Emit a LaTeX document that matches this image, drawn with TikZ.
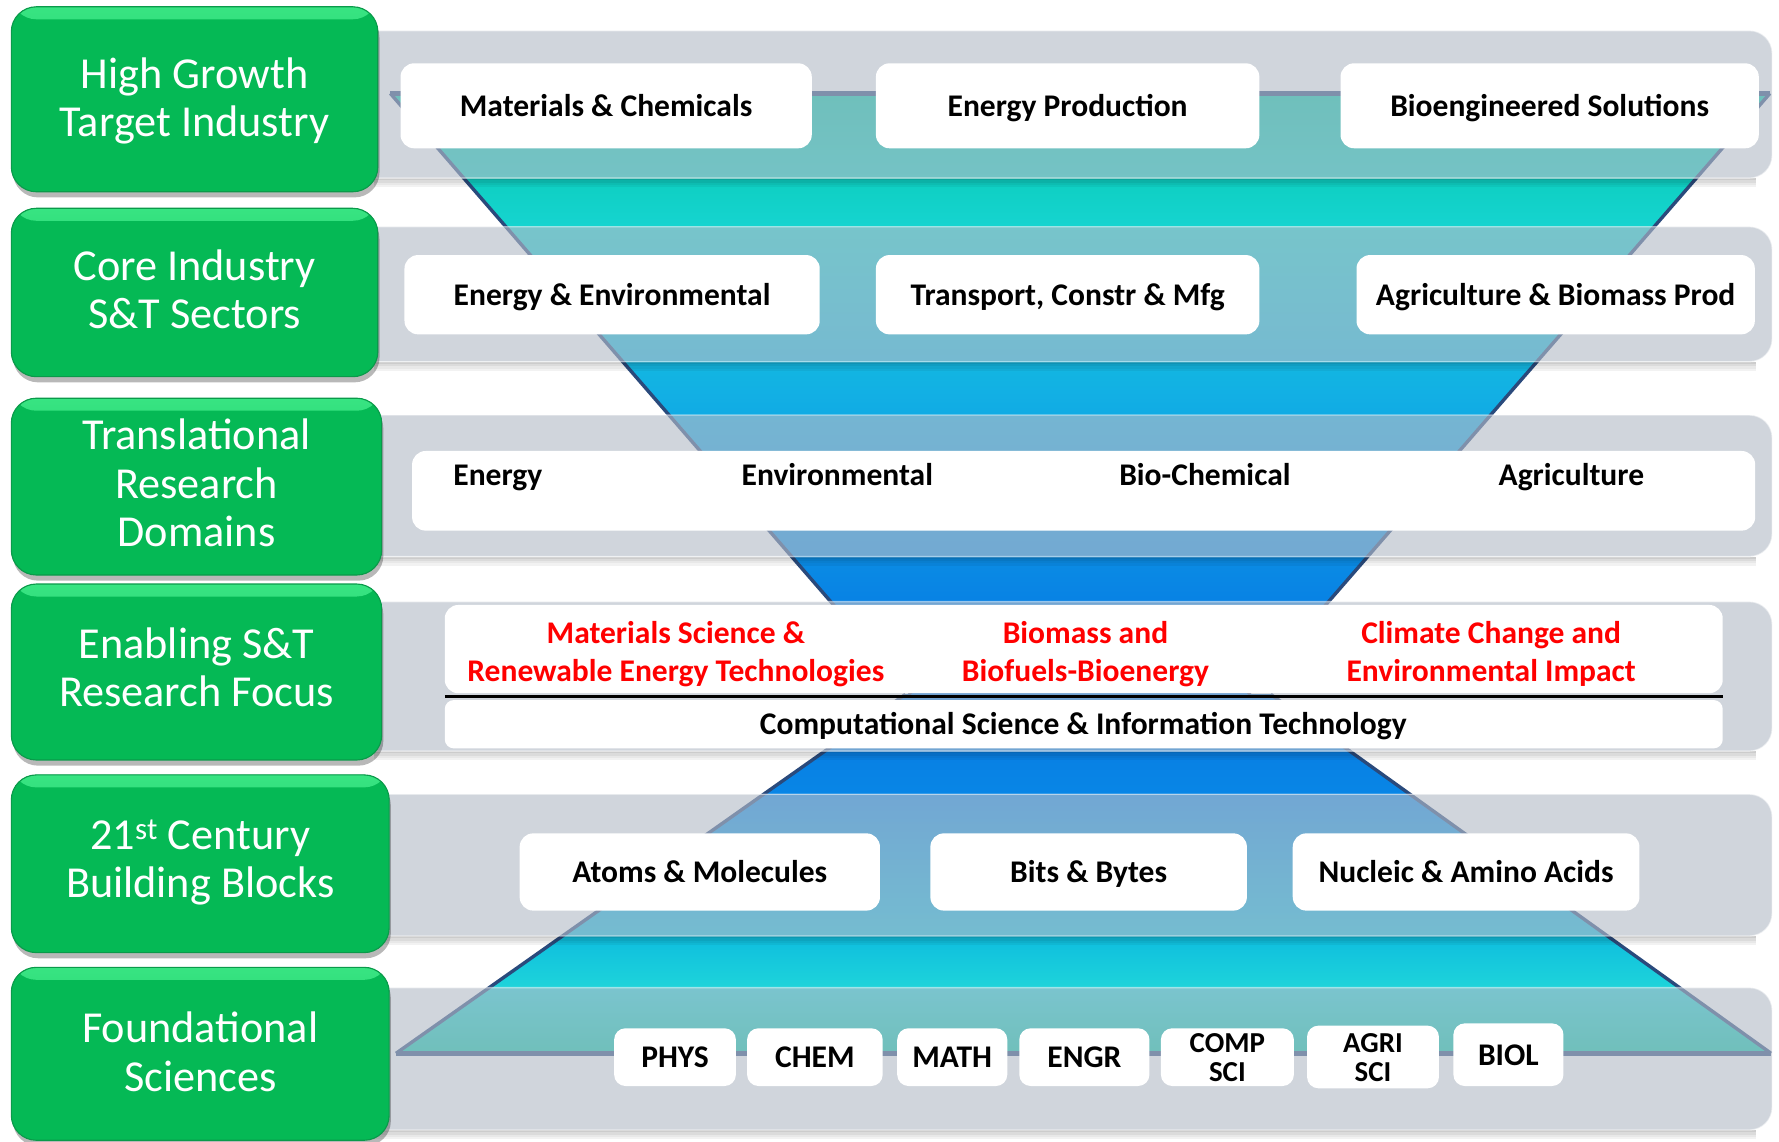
\documentclass[tikz,border=0pt]{standalone}
\usepackage{fontspec}
\setmainfont{Carlito}
\definecolor{fA}{HTML}{00C6A8}
\definecolor{fB}{HTML}{16D4D0}
\definecolor{fC}{HTML}{12B0E4}
\definecolor{fD}{HTML}{0882E4}
\definecolor{fE}{HTML}{0878E0}
\definecolor{fF}{HTML}{0886E6}
\definecolor{fG}{HTML}{10C0DE}
\definecolor{fH}{HTML}{1ED4DA}
\definecolor{fI}{HTML}{00C4A0}
\definecolor{edgeC}{HTML}{2A4A7C}
\definecolor{bandC}{HTML}{B4BCC8}
\definecolor{gMain}{HTML}{05B955}
\definecolor{gTop}{HTML}{38E482}
\definecolor{gEdge}{HTML}{0A9A4A}
\newcommand{\bxfont}{\bfseries\fontsize{27.8}{33}\selectfont}
\newcommand{\smfont}{\bfseries\fontsize{25.5}{25.5}\selectfont}
\newcommand{\glfont}{\fontsize{39}{42.5}\selectfont}
\begin{document}
\begin{tikzpicture}[x=1pt,y=-1pt,
  band/.style={fill=bandC, fill opacity=0.62, draw=white, draw opacity=0.5, line width=1.2pt, rounded corners=20pt},
  gbox/.style={rounded corners=22pt, fill=gMain, draw=gEdge, line width=1pt, inner sep=0pt,
    preaction={draw=none, fill=black, fill opacity=0.28, transform canvas={xshift=1.5pt,yshift=-5pt}},
    path picture={\fill[top color=gTop, bottom color=gMain] (path picture bounding box.north west) rectangle ([yshift=-11pt]path picture bounding box.north east);}},
  wbox/.style={fill=white, rounded corners=12pt, inner sep=0pt, font=\bxfont, text height=23pt, text depth=4pt},
  sbox/.style={wbox, rounded corners=10pt},
  btxt/.style={anchor=base, inner sep=0pt, font=\bxfont},
  stxt/.style={anchor=center, inner sep=0pt, align=center, font=\smfont},
  rtxt/.style={btxt, text=red},
  gtxt/.style={anchor=base, inner sep=0pt, font=\glfont, text=white},
  fedge/.style={draw=edgeC, line width=3pt}]
\useasboundingbox (0,0) rectangle (1568,1006);
\fill[white] (0,0) rectangle (1568,1006);

% ---------- funnel (hourglass) ----------
\begin{scope}
\clip (344,82.3) -- (1560,82.3) -- (1100,612) -- (1120,612) -- (1561,928.4) -- (349,928.4) -- (798,612) -- (803,612) -- cycle;
\fill[top color=fA, bottom color=fB] (300,80) rectangle (1600,200.5);
\fill[top color=fB, bottom color=fC] (300,200) rectangle (1600,345.5);
\fill[top color=fC, bottom color=fD] (300,345) rectangle (1600,530.5);
\fill[top color=fD, bottom color=fE] (300,530) rectangle (1600,612.5);
\fill[top color=fE, bottom color=fF] (300,612) rectangle (1600,700.5);
\fill[top color=fF, bottom color=fG] (300,700) rectangle (1600,830.5);
\fill[top color=fG, bottom color=fH] (300,830) rectangle (1600,870.5);
\fill[top color=fH, bottom color=fI] (300,870) rectangle (1600,935);
\end{scope}
\draw[fedge] (344,82.3) -- (803,612);
\draw[fedge] (1560,82.3) -- (1100,612);
\draw[fedge] (798,612) -- (349,928.4);
\draw[fedge] (1120,612) -- (1561,928.4);
\draw[fedge, line width=5pt] (344,82.3) -- (1560,82.3);
\draw[fedge, line width=5pt] (349,928.4) -- (1561,928.4);

% ---------- bands ----------
\foreach \ya/\yb in {27/157, 199.8/318.8, 365.8/490.6, 530.3/662, 700/825, 870.5/996}{
  \foreach \k/\o in {0/0.2,1/0.14,2/0.09,3/0.05}{
    \fill[black, fill opacity=\o] (330,{\yb+2*\k}) rectangle (1548,{\yb+2*\k+2});
  }
  \path[band] (300,\ya) rectangle (1562,\yb);
}

% ---------- row 1 ----------
\node[wbox, minimum width=362.5pt, minimum height=74.9pt] (b11) at (534.25,93.25) {Materials \& Chemicals};
\node[wbox, minimum width=338pt, minimum height=74.9pt] (b12) at (941,93.25) {Energy Production};
\node[wbox, minimum width=368.7pt, minimum height=74.9pt] (b13) at (1365.85,93.25) {Bioengineered Solutions};

% ---------- row 2 ----------
\node[wbox, minimum width=366pt, minimum height=69.9pt] (b21) at (539.5,259.75) {Energy \& Environmental};
\node[wbox, minimum width=338pt, minimum height=69.9pt] (b22) at (941,259.75) {Transport, Constr \& Mfg};
\node[wbox, minimum width=351.1pt, minimum height=69.9pt] (b23) at (1371.15,259.75) {Agriculture \& Biomass Prod};

% ---------- row 3 ----------
\node[wbox, minimum width=1183.8pt, minimum height=70.2pt] (r3) at (955.1,432.6) {};
\node[btxt] (t31) at (438.8,427.5) {Energy};
\node[btxt] (t32) at (738,427.5) {Environmental};
\node[btxt] (t33) at (1062,427.5) {Bio-Chemical};
\node[btxt] (t34) at (1385,427.5) {Agriculture};

% ---------- row 4 ----------
\node[wbox, minimum width=1126.4pt, minimum height=77.8pt] (r4a) at (955.2,572.1) {};
\node[wbox, rounded corners=8pt, minimum width=1126.4pt, minimum height=42.6pt] (r4b) at (955.2,638.3) {};
\coordinate (d1) at (392,614);
\coordinate (d2) at (1518.4,614);
\draw[black, line width=2pt] (d1) -- (d2);
\node[rtxt] (t41a) at (595.7,566.9) {Materials Science \&};
\node[rtxt] (t41b) at (595.7,600.8) {Renewable Energy Technologies};
\node[rtxt] (t42a) at (956.7,566.9) {Biomass and};
\node[rtxt] (t42b) at (956.7,600.8) {Biofuels-Bioenergy};
\node[rtxt] (t43a) at (1314.3,566.9) {Climate Change and};
\node[rtxt] (t43b) at (1314.3,600.8) {Environmental Impact};
\node[btxt] (t44) at (954.8,647.8) {Computational Science \& Information Technology};

% ---------- row 5 ----------
\node[wbox, minimum width=317.6pt, minimum height=68.1pt] (b51) at (616.8,768.55) {Atoms \& Molecules};
\node[wbox, minimum width=279pt, minimum height=68.1pt] (b52) at (959.5,768.55) {Bits \& Bytes};
\node[wbox, minimum width=305.6pt, minimum height=68.1pt] (b53) at (1292.2,768.55) {Nucleic \& Amino Acids};

% ---------- row 6 ----------
\node[sbox, minimum width=107.3pt, minimum height=50.9pt] (b61) at (594.95,931.75) {PHYS};
\node[sbox, minimum width=119.5pt, minimum height=50.9pt] (b62) at (718.25,931.75) {CHEM};
\node[sbox, minimum width=97pt, minimum height=50.9pt] (b63) at (839.3,931.75) {MATH};
\node[sbox, minimum width=114.7pt, minimum height=50.9pt] (b64) at (955.75,931.75) {ENGR};
\node[sbox, minimum width=117.2pt, minimum height=50.9pt] (b65) at (1081.8,931.75) {};
\node[stxt] (t65) at (1081.8,932.4) {COMP\\SCI};
\node[sbox, minimum width=116.3pt, minimum height=55.2pt] (b66) at (1210.15,931.6) {};
\node[stxt] (t66) at (1210.15,932) {AGRI\\SCI};
\node[sbox, minimum width=97pt, minimum height=55.2pt] (b67) at (1329.5,929.6) {BIOL};

% ---------- green labels ----------
\node[gbox, minimum width=323pt, minimum height=163pt] (g1) at (171.5,87.5) {};
\node[gtxt] (g1a) at (171.5,77.9) {High Growth};
\node[gtxt] (g1b) at (171.5,120.5) {Target Industry};

\node[gbox, minimum width=323pt, minimum height=148.4pt] (g2) at (171.5,257.8) {};
\node[gtxt] (g2a) at (171.5,246.8) {Core Industry};
\node[gtxt] (g2b) at (171.5,289.4) {S\&T Sectors};

\node[gbox, minimum width=326.4pt, minimum height=155.8pt] (g3) at (173.2,428.9) {};
\node[gtxt] (g3a) at (173.2,396.6) {Translational};
\node[gtxt] (g3b) at (173.2,439.2) {Research};
\node[gtxt] (g3c) at (173.2,481.8) {Domains};

\node[gbox, minimum width=326.4pt, minimum height=155.1pt] (g4) at (173.2,592.3) {};
\node[gtxt] (g4a) at (173.2,580.2) {Enabling S\&T};
\node[gtxt] (g4b) at (173.2,622.8) {Research Focus};

\node[gbox, minimum width=333pt, minimum height=156.6pt] (g5) at (176.5,761.3) {};
\node[gtxt] (g5a) at (176.5,748.6) {21\textsuperscript{st} Century};
\node[gtxt] (g5b) at (176.5,790.9) {Building Blocks};

\node[gbox, minimum width=333pt, minimum height=152.4pt] (g6) at (176.5,928.8) {};
\node[gtxt] (g6a) at (176.5,919) {Foundational};
\node[gtxt] (g6b) at (176.5,962.2) {Sciences};
\end{tikzpicture}
\end{document}
